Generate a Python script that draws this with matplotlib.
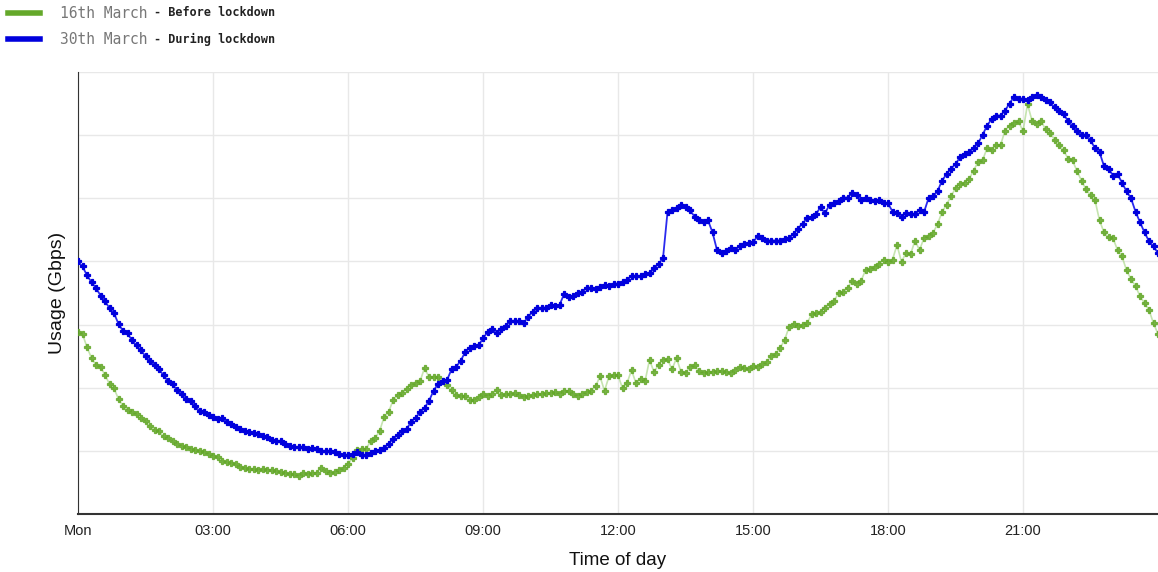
import numpy as np
import matplotlib.pyplot as plt
from matplotlib.lines import Line2D

plt.rcParams['font.family'] = ['Liberation Sans', 'DejaVu Sans']

# usage in Gbps, one reading every 6 minutes from 00:00 to 24:00
before_lockdown = [
    288, 285, 264, 247, 236, 233, 220, 206, 199, 182,
    171, 165, 161, 158, 152, 147, 139, 133, 131, 123,
    120, 115, 111, 108, 106, 103, 101, 100, 98, 95,
    92, 90, 84, 82, 81, 79, 74, 73, 71, 71,
    70, 71, 70, 70, 68, 66, 65, 63, 63, 60,
    65, 63, 65, 65, 73, 68, 65, 66, 70, 73,
    79, 89, 101, 103, 103, 115, 120, 131, 153, 161,
    180, 188, 191, 198, 204, 207, 210, 231, 217, 217,
    217, 210, 204, 196, 188, 187, 187, 180, 180, 185,
    190, 187, 190, 196, 188, 190, 190, 191, 188, 185,
    187, 188, 190, 190, 191, 191, 193, 190, 195, 195,
    190, 187, 190, 193, 195, 202, 218, 195, 218, 220,
    220, 199, 207, 228, 207, 214, 210, 244, 225, 236,
    244, 245, 229, 247, 225, 223, 233, 236, 226, 223,
    225, 225, 226, 226, 225, 223, 228, 233, 231, 229,
    234, 233, 237, 240, 250, 253, 263, 275, 296, 301,
    297, 299, 302, 316, 318, 320, 327, 332, 337, 350,
    351, 358, 369, 365, 369, 386, 388, 391, 396, 403,
    399, 403, 426, 399, 414, 411, 433, 418, 437, 440,
    445, 459, 478, 490, 503, 516, 522, 525, 530, 544,
    557, 560, 579, 576, 584, 584, 607, 615, 619, 622,
    606, 649, 623, 617, 623, 609, 604, 593, 585, 576,
    563, 560, 543, 528, 514, 505, 497, 465, 446, 438,
    437, 418, 408, 386, 372, 361, 345, 334, 323, 302,
    285,
]

during_lockdown = [
    400, 392, 378, 367, 358, 346, 337, 326, 318, 301,
    290, 286, 275, 267, 259, 250, 242, 236, 229, 220,
    210, 206, 196, 190, 182, 179, 171, 163, 161, 157,
    153, 150, 152, 146, 142, 138, 134, 131, 130, 128,
    127, 123, 122, 117, 115, 115, 111, 108, 106, 106,
    106, 103, 104, 103, 100, 100, 100, 98, 95, 93,
    93, 95, 98, 93, 93, 97, 100, 101, 104, 111,
    119, 125, 131, 134, 146, 152, 161, 168, 179, 195,
    206, 210, 212, 229, 233, 242, 256, 263, 266, 267,
    278, 288, 293, 286, 293, 297, 305, 305, 305, 302,
    312, 320, 326, 326, 327, 331, 329, 331, 348, 343,
    346, 350, 351, 358, 358, 356, 359, 362, 361, 364,
    365, 367, 370, 377, 377, 377, 380, 381, 389, 396,
    405, 478, 481, 484, 490, 486, 481, 471, 465, 462,
    465, 446, 418, 413, 416, 422, 418, 424, 427, 429,
    430, 440, 437, 433, 433, 433, 433, 435, 437, 443,
    452, 460, 468, 470, 475, 486, 476, 490, 492, 495,
    501, 501, 508, 505, 498, 500, 498, 495, 498, 492,
    492, 479, 476, 471, 476, 475, 475, 481, 478, 500,
    503, 511, 528, 538, 547, 554, 565, 570, 573, 579,
    587, 600, 615, 625, 631, 631, 639, 650, 661, 657,
    658, 655, 660, 663, 660, 655, 652, 644, 639, 634,
    622, 615, 607, 600, 601, 592, 579, 573, 551, 547,
    536, 538, 525, 511, 500, 479, 462, 446, 432, 424,
    413,
]

tick_hours = [0, 3, 6, 9, 12, 15, 18, 21]
tick_labels = ['Mon', '03:00', '06:00', '09:00', '12:00', '15:00', '18:00', '21:00']

hours = np.arange(len(before_lockdown)) * 0.1

green = '#64a82a'
blue = '#0000dd'

fig = plt.figure(figsize=(11.58, 5.72), dpi=100)
ax = fig.add_axes([78 / 1158, 58 / 572, 1080 / 1158, 442 / 572])

ax.plot(hours, before_lockdown, color='#9fd27a', lw=1.2, alpha=0.6, zorder=2)
ax.plot(hours, before_lockdown, ls='none', marker='P', ms=4.5, mew=0.9,
        color=green, mec=green, alpha=0.85, zorder=3)
ax.plot(hours, during_lockdown, color='#2a2aee', lw=1.3, zorder=4)
ax.plot(hours, during_lockdown, ls='none', marker='P', ms=4.5, mew=0.9,
        color=blue, mec=blue, zorder=5)

ax.set_xlim(0, 24)
ax.set_ylim(0, 700)
ax.set_xticks(tick_hours)
ax.set_xticklabels(tick_labels, fontsize=10.5, color='#222222')
ax.set_yticks(np.arange(0, 701, 100))
ax.set_yticklabels([])
ax.tick_params(length=0, pad=7)
ax.grid(True, color='#e8e8e8', lw=1)
ax.set_axisbelow(True)

for side in ['top', 'right']:
    ax.spines[side].set_visible(False)
ax.spines['left'].set_color('#333333')
ax.spines['bottom'].set_color('#333333')
ax.spines['bottom'].set_linewidth(1.5)

ax.set_xlabel('Time of day', fontsize=13.5, labelpad=10, color='#111111')
ax.set_ylabel('Usage (Gbps)', fontsize=14, labelpad=2, color='#111111')

# legend above the chart
rows = [(green, '16th March', 'Before lockdown', 13),
        (blue, '30th March', 'During lockdown', 39)]
for col, date, note, py in rows:
    yf = 1 - py / 572
    fig.add_artist(Line2D([8 / 1158, 40 / 1158], [yf, yf], color=col, lw=4))
    fig.text(60 / 1158, yf, date, fontsize=10.5, color='#777777',
             family='DejaVu Sans Mono', va='center')
    fig.text(154 / 1158, yf, '- ' + note, fontsize=8.5, color='#222222',
             family='DejaVu Sans Mono', weight='bold', va='center')

fig.savefig('out.png', dpi=100)
